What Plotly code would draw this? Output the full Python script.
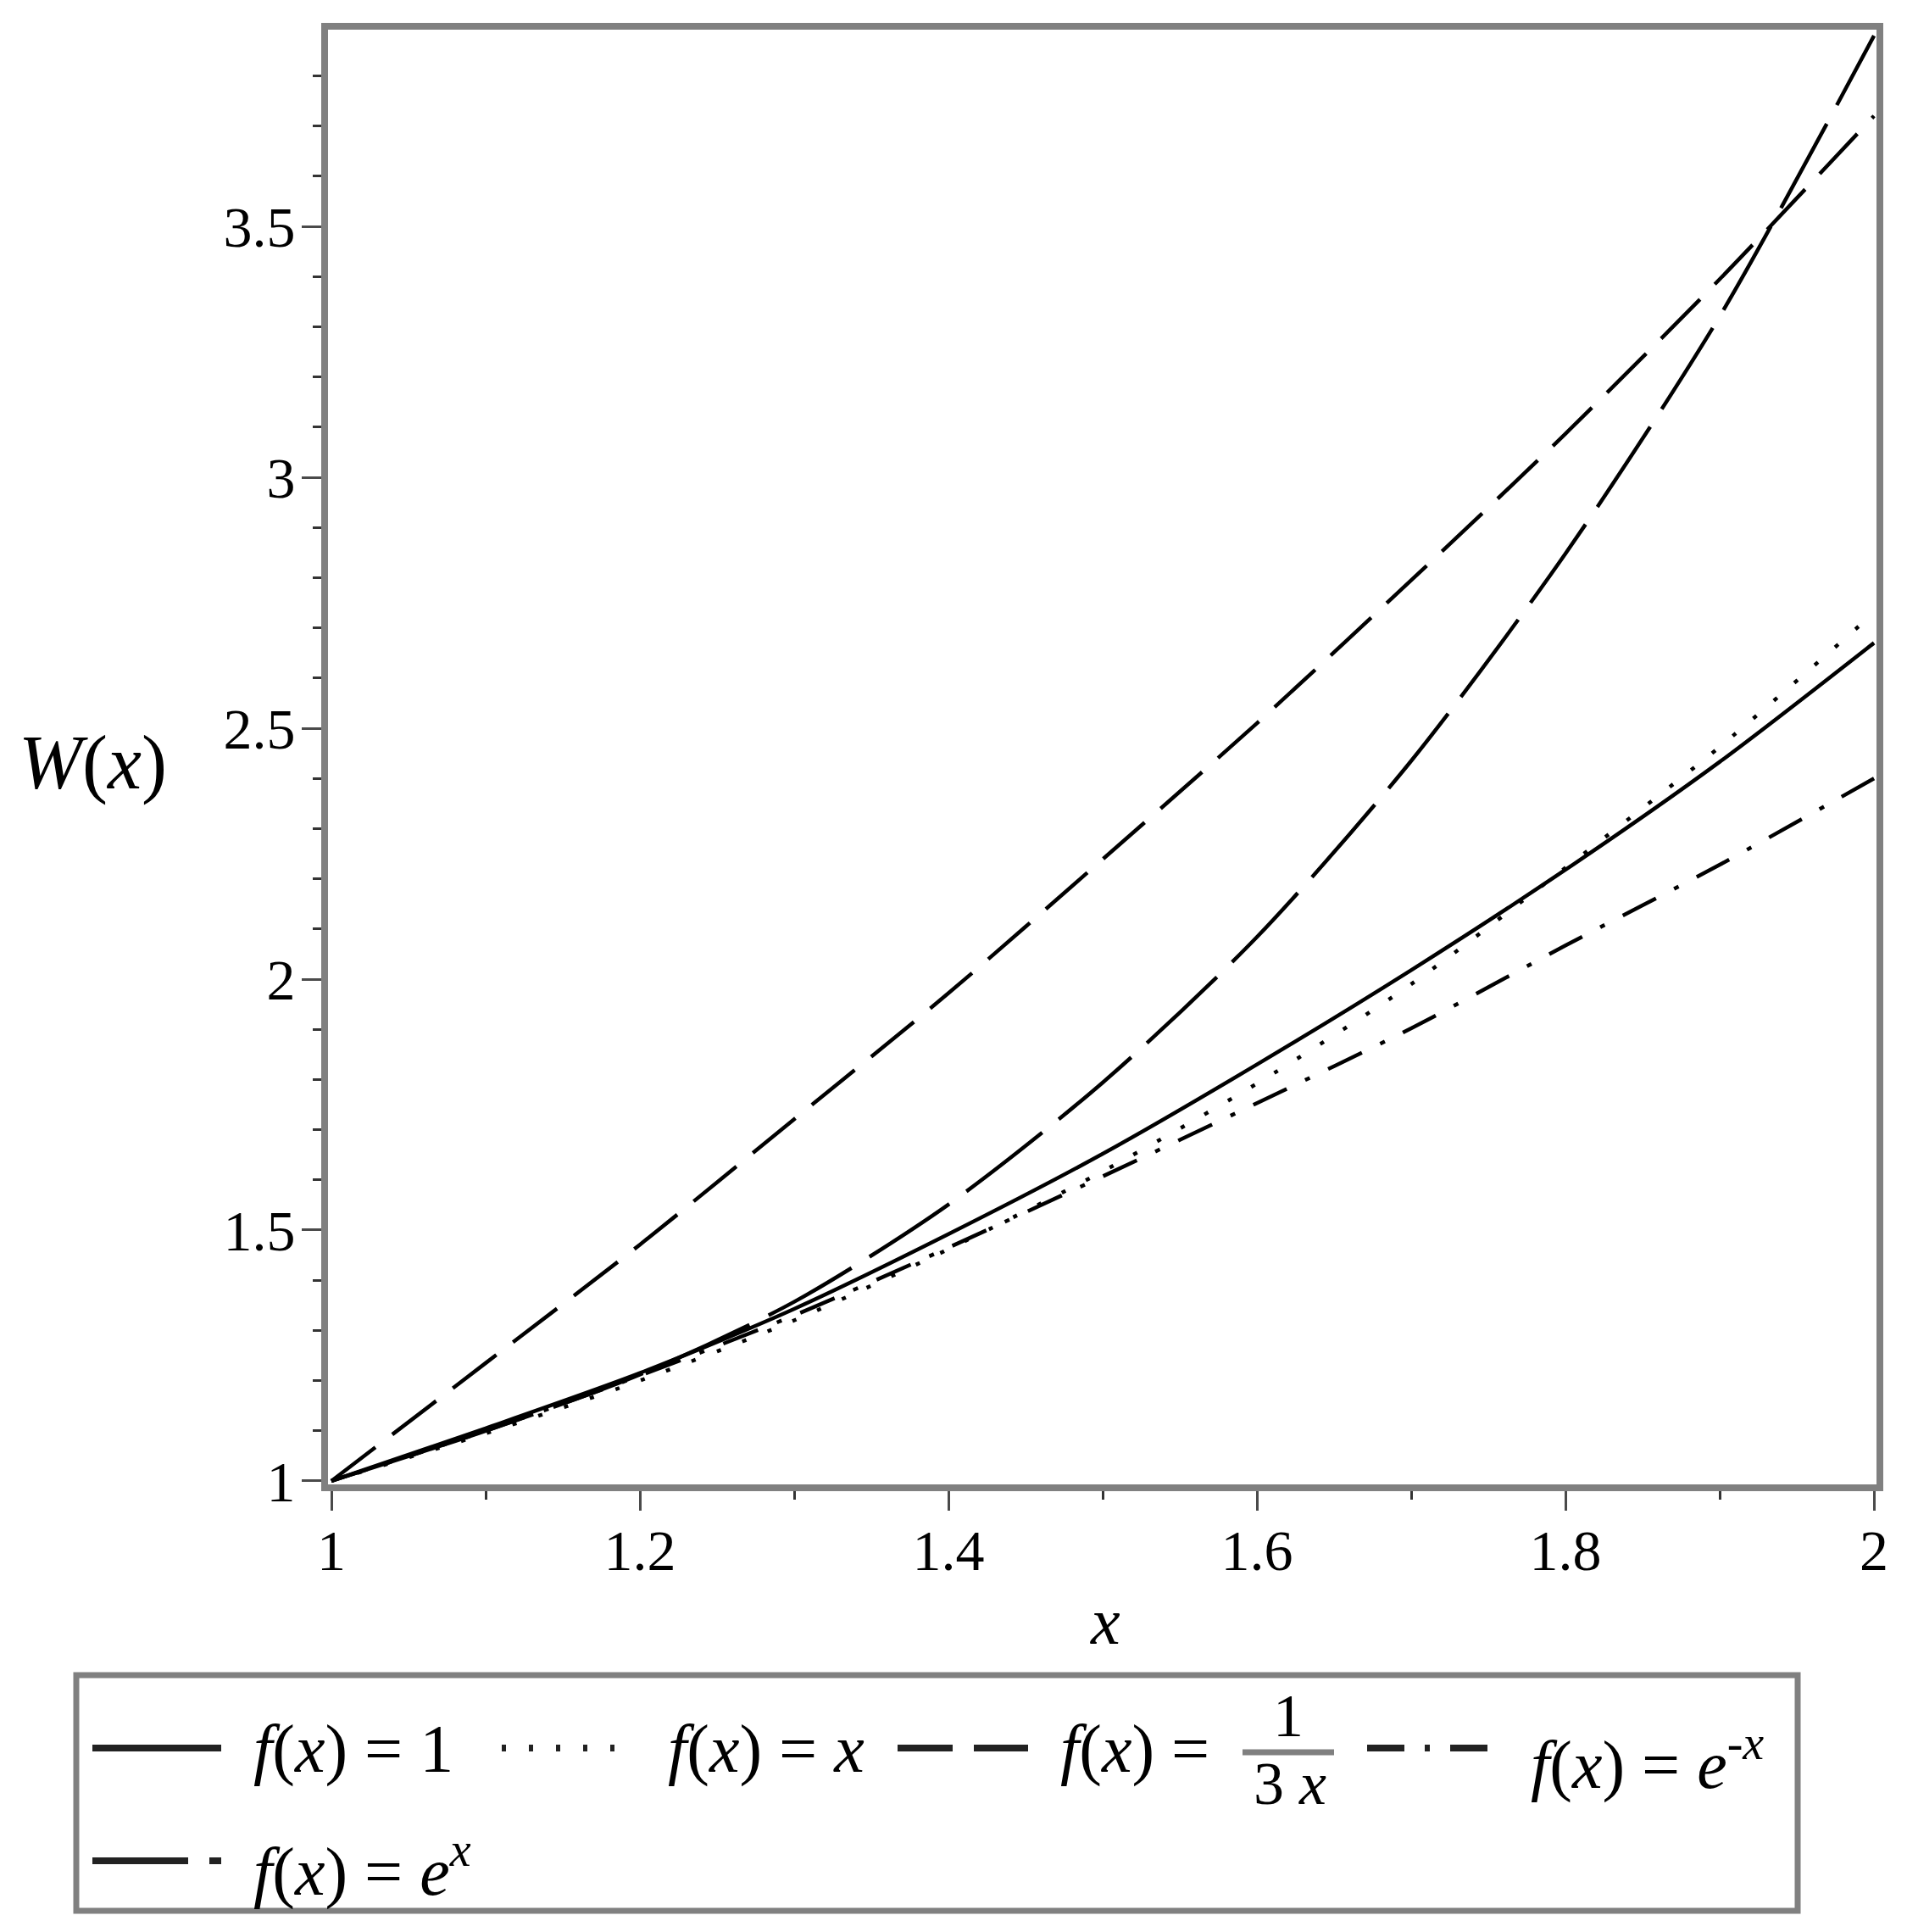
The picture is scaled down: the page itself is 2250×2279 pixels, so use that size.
import plotly.graph_objects as go

# ---- data ----
x_vals = [1.0, 1.1, 1.2, 1.3, 1.4, 1.5, 1.6, 1.7, 1.8, 1.9, 2.0]
w_f_one = [1.0, 1.105, 1.215, 1.343, 1.492, 1.652, 1.83, 2.018, 2.218, 2.433, 2.67]
w_f_x = [1.0, 1.095, 1.20, 1.32, 1.462, 1.617, 1.792, 1.99, 2.222, 2.463, 2.73]
w_f_inv3x = [1.0, 1.235, 1.471, 1.721, 1.972, 2.239, 2.51, 2.795, 3.087, 3.395, 3.72]
w_f_expneg = [1.0, 1.10, 1.21, 1.33, 1.465, 1.607, 1.753, 1.902, 2.067, 2.228, 2.40]
w_f_exp = [1.0, 1.10, 1.212, 1.357, 1.551, 1.794, 2.084, 2.435, 2.848, 3.321, 3.88]

x_ticks = [1, 1.2, 1.4, 1.6, 1.8, 2]
x_ticktext = ["1", "1.2", "1.4", "1.6", "1.8", "2"]
x_minor = [1.1, 1.3, 1.5, 1.7, 1.9]
y_ticks = [1, 1.5, 2, 2.5, 3, 3.5]
y_ticktext = ["1", "1.5", "2", "2.5", "3", "3.5"]
y_minor = [1.1, 1.2, 1.3, 1.4, 1.6, 1.7, 1.8, 1.9, 2.1, 2.2, 2.3, 2.4,
           2.6, 2.7, 2.8, 2.9, 3.1, 3.2, 3.3, 3.4, 3.6, 3.7, 3.8]

series = [
    ("f(x) = 1", w_f_one, "solid"),
    ("f(x) = x", w_f_x, "5px,27px"),
    ("f(x) = 1/(3x)", w_f_inv3x, "65px,25px"),
    ("f(x) = e^(-x)", w_f_expneg, "44px,24px,6px,24px"),
    ("f(x) = e^x", w_f_exp, "113px,25px"),
]

SERIF = "Liberation Serif, Times New Roman, serif"
OFF = 8                      # page body margin
W, H = 2250 - 2 * OFF, 2279 - 2 * OFF
# plot area in page pixel coordinates
PL, PR, PT, PB = 387, 2214, 35, 1751


def px(x):
    return (x - PL) / (PR - PL)


def py(y):
    return (PB - y) / (PB - PT)


fig = go.Figure()
for name, vals, dash in series:
    fig.add_trace(go.Scatter(
        x=x_vals, y=vals, mode="lines", name=name, showlegend=False,
        line=dict(color="black", width=4.5, dash=dash, shape="spline", smoothing=0.8),
    ))

axis_common = dict(
    showline=True, linecolor="#808080", linewidth=8, mirror=True,
    showgrid=False, zeroline=False,
    ticks="outside", ticklen=23, tickwidth=3, tickcolor="#4a4a4a",
    tickfont=dict(family=SERIF, size=68, color="black"),
)

fig.update_layout(
    width=W, height=H,
    margin=dict(l=PL - OFF, r=W - (PR - OFF), t=PT - OFF, b=H - (PB - OFF)),
    paper_bgcolor="white", plot_bgcolor="white",
    showlegend=False,
    xaxis=dict(range=[0.9978, 2.0016], tickvals=x_ticks, ticktext=x_ticktext,
               ticklabelstandoff=-12,
               minor=dict(tickvals=x_minor, ticks="outside", ticklen=10,
                          tickwidth=3, tickcolor="#333", showgrid=False),
               **axis_common),
    yaxis=dict(range=[0.9932, 3.892], tickvals=y_ticks, ticktext=y_ticktext,
               ticklabelstandoff=-6,
               minor=dict(tickvals=y_minor, ticks="outside", ticklen=10,
                          tickwidth=3, tickcolor="#333", showgrid=False),
               **axis_common),
)

ann = []
# axis titles
ann.append(dict(text="<i>W</i>(<i>x</i>)", x=px(109), y=py(900), xref="paper", yref="paper",
                xanchor="center", yanchor="middle", showarrow=False,
                font=dict(family=SERIF, size=90, color="black")))
ann.append(dict(text="<i>x</i>", x=px(1304), y=py(1912), xref="paper", yref="paper",
                xanchor="center", yanchor="middle", showarrow=False,
                font=dict(family=SERIF, size=78, color="black")))

LFONT = dict(family=SERIF, size=80, color="black")
FFONT = dict(family=SERIF, size=72, color="black")
legend_texts = [
    ("<i>f</i>(<i>x</i>) = 1", 297, 2063),
    ("<i>f</i>(<i>x</i>) = <i>x</i>", 786, 2063),
    ("<i>f</i>(<i>x</i>) = ", 1249, 2063),
    ("<i>f</i>(<i>x</i>) = <i>e</i><sup>-<i>x</i></sup>", 1804, 2076),
    ("<i>f</i>(<i>x</i>) = <i>e</i><sup><i>x</i></sup>", 297, 2202),
]
for t, lx, ly in legend_texts:
    ann.append(dict(text=t, x=px(lx), y=py(ly), xref="paper", yref="paper",
                    xanchor="left", yanchor="middle", showarrow=False, font=LFONT))
# fraction 1 / (3x)
ann.append(dict(text="1", x=px(1520), y=py(2024), xref="paper", yref="paper",
                xanchor="center", yanchor="middle", showarrow=False, font=FFONT))
ann.append(dict(text="3 <i>x</i>", x=px(1522), y=py(2104), xref="paper", yref="paper",
                xanchor="center", yanchor="middle", showarrow=False, font=FFONT))

shapes = []
# legend frame
shapes.append(dict(type="rect", xref="paper", yref="paper",
                   x0=px(90), x1=px(2121), y0=py(2254), y1=py(1976),
                   line=dict(color="#808080", width=7), fillcolor="rgba(0,0,0,0)"))
# fraction bar
shapes.append(dict(type="line", xref="paper", yref="paper",
                   x0=px(1466), x1=px(1574), y0=py(2067), y1=py(2067),
                   line=dict(color="#808080", width=7)))
# legend samples
samples = [
    (109, 261, 2062, series[0][2]),
    (592, 740, 2062, series[1][2]),
    (1059, 1213, 2062, series[2][2]),
    (1613, 1758, 2062, series[3][2]),
    (109, 261, 2195, series[4][2]),
]
for x0, x1, yy, dash in samples:
    shapes.append(dict(type="line", xref="paper", yref="paper",
                       x0=px(x0), x1=px(x1), y0=py(yy), y1=py(yy),
                       line=dict(color="#222", width=8, dash=dash)))

fig.update_layout(annotations=ann, shapes=shapes)
fig.write_html("out.html")
